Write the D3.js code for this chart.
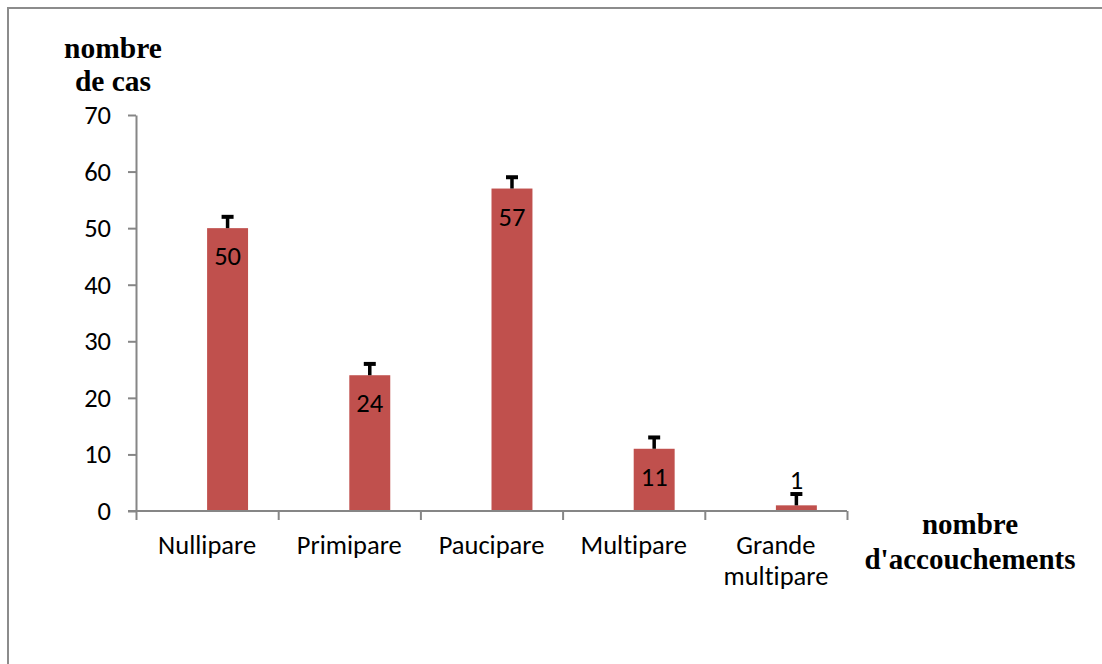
<!DOCTYPE html>
<html>
<head>
<meta charset="utf-8">
<script src="https://cdn.jsdelivr.net/npm/d3@7"></script>
<style>
  html, body { margin: 0; padding: 0; background: #fff; }
  svg { display: block; }
  text { font-variant-ligatures: none; font-feature-settings: "liga" 0, "clig" 0; }
</style>
</head>
<body>
<svg id="chart" width="1102" height="664"></svg>
<script>
// Répartition des cas selon la parité
const categories = ["Nullipare", "Primipare", "Paucipare", "Multipare", "Grande multipare"];
const cases = [50, 24, 57, 11, 1];
const errorPlus = [2, 2, 2, 2, 2];
const yTicks = [0, 10, 20, 30, 40, 50, 60, 70];
const yTitle = ["nombre", "de cas"];
const xTitle = ["nombre", "d'accouchements"];

const sansFont = "Carlito, 'Open Sans', Lato, sans-serif";
const serifFont = "'Liberation Serif', 'DejaVu Serif', serif";
const sansSize = 26.5;
const barColor = "#C0504D";
const axisColor = "#868686";

const svg = d3.select("#chart");

// outer frame (runs off the right and bottom edges)
svg.append("rect")
  .attr("x", 8).attr("y", 8)
  .attr("width", 1200).attr("height", 800)
  .attr("fill", "#fff")
  .attr("stroke", "#8c8c8c")
  .attr("stroke-width", 2);

const plot = { left: 136, right: 847, top: 115, bottom: 511 };

const y = d3.scaleLinear().domain([0, 70]).range([plot.bottom, plot.top]);
const x = d3.scaleBand().domain(categories).range([plot.left, plot.right]).padding(0);
const bw = x.bandwidth();
const barW = bw * 0.288;

// y axis
const yAxis = svg.append("g")
  .attr("transform", `translate(${plot.left},0)`)
  .call(d3.axisLeft(y).tickValues(yTicks).tickSize(8).tickPadding(17).tickSizeOuter(0));
yAxis.select(".domain").attr("stroke", axisColor).attr("stroke-width", 2);
yAxis.selectAll(".tick line").attr("stroke", axisColor).attr("stroke-width", 2);
yAxis.selectAll(".tick text")
  .attr("font-family", sansFont).attr("font-size", sansSize).attr("fill", "#000");

// bars (placed in the right half of each category slot)
svg.append("g").selectAll("rect")
  .data(categories.map((c, i) => ({ c, v: cases[i], e: errorPlus[i] })))
  .join("rect")
  .attr("x", d => x(d.c) + bw / 2)
  .attr("y", d => y(d.v))
  .attr("width", barW)
  .attr("height", d => y(0) - y(d.v))
  .attr("fill", barColor);

// x axis: baseline, category boundary ticks and labels
const xAxis = svg.append("g")
  .attr("transform", `translate(0,${plot.bottom})`)
  .call(d3.axisBottom(x).tickSize(0).tickSizeOuter(0));
xAxis.select(".domain").remove();
xAxis.append("line")
  .attr("x1", plot.left - 8).attr("x2", plot.right)
  .attr("stroke", axisColor).attr("stroke-width", 2);

const bounds = d3.scaleLinear().domain([0, categories.length]).range([plot.left, plot.right]);
const tickG = svg.append("g")
  .attr("transform", `translate(0,${plot.bottom})`)
  .call(d3.axisBottom(bounds).tickValues(d3.range(categories.length + 1)).tickFormat("").tickSize(9).tickSizeOuter(0));
tickG.select(".domain").remove();
tickG.selectAll(".tick line").attr("stroke", axisColor).attr("stroke-width", 2);

// wrap long category names onto two lines
xAxis.selectAll(".tick text")
  .attr("font-family", sansFont).attr("font-size", sansSize).attr("fill", "#000")
  .attr("dy", null).attr("y", 0)
  .each(function(d) {
    const t = d3.select(this);
    const words = d.split(" ");
    t.text(null);
    let lines = [], cur = [];
    const probe = t.append("tspan");
    words.forEach(w => {
      const trial = cur.concat(w).join(" ");
      probe.text(trial);
      if (probe.node().getComputedTextLength() > bw * 0.85 && cur.length) {
        lines.push(cur.join(" "));
        cur = [w];
      } else {
        cur.push(w);
      }
    });
    lines.push(cur.join(" "));
    probe.remove();
    lines.forEach((l, i) => {
      t.append("tspan").attr("x", 0).attr("y", 43 + i * 31).text(l);
    });
  });

// error bars (plus direction only)
const errG = svg.append("g");
categories.forEach((c, i) => {
  const cx = x(c) + bw / 2 + barW / 2;
  const top = y(cases[i] + errorPlus[i]);
  errG.append("line")
    .attr("x1", cx).attr("x2", cx)
    .attr("y1", y(cases[i])).attr("y2", top)
    .attr("stroke", "#000").attr("stroke-width", 3.5);
  errG.append("line")
    .attr("x1", cx - 6).attr("x2", cx + 6)
    .attr("y1", top).attr("y2", top)
    .attr("stroke", "#000").attr("stroke-width", 4);
});

// value labels: inside the top of the bar, above it when the bar is too short
svg.append("g").selectAll("text")
  .data(categories.map((c, i) => ({ c, v: cases[i] })))
  .join("text")
  .attr("x", d => x(d.c) + bw / 2 + barW / 2)
  .attr("y", d => (y(0) - y(d.v) > 40) ? y(d.v) + 37 : y(d.v) - 16)
  .attr("text-anchor", "middle")
  .attr("font-family", sansFont).attr("font-size", sansSize).attr("fill", "#000")
  .text(d => d.v);

// axis titles
const yt = svg.append("text")
  .attr("text-anchor", "middle")
  .attr("font-family", serifFont).attr("font-weight", "bold").attr("font-size", 29.5).attr("fill", "#000");
yTitle.forEach((l, i) => yt.append("tspan").attr("x", 113).attr("y", 58 + i * 33).text(l));

const xt = svg.append("text")
  .attr("text-anchor", "middle")
  .attr("font-family", serifFont).attr("font-weight", "bold").attr("font-size", 29).attr("fill", "#000");
xTitle.forEach((l, i) => xt.append("tspan").attr("x", 970).attr("y", 534 + i * 35).text(l));
</script>
</body>
</html>
